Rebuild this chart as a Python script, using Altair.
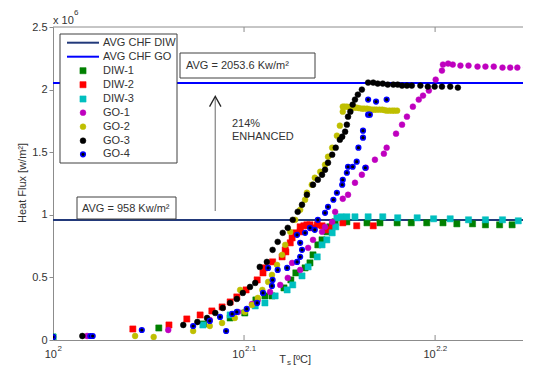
import altair as alt
import pandas as pd

# ---------------- data (Ts in degC, heat flux in units of 10^6 W/m^2) ----------------
series_names = ["DIW-1", "DIW-2", "DIW-3", "GO-1", "GO-2", "GO-3", "GO-4"]

diw1_T = [100.0, 113.6, 119.9, 123.8, 126.0, 127.7, 129.1, 130.2, 132.1, 133.2, 134.0, 135.5, 136.3, 136.8,
          137.6, 138.3, 139.1, 139.6, 140.5, 142.5, 146.0, 148.3, 151.4, 154.0, 156.9, 160.0, 162.7, 165.8,
          168.4, 171.3, 173.9]
diw1_q = [0.024, 0.096, 0.128, 0.176, 0.216, 0.32, 0.352, 0.352, 0.416, 0.48, 0.536, 0.576, 0.616, 0.68,
          0.76, 0.8, 0.864, 0.904, 0.944, 0.944, 0.936, 0.936, 0.936, 0.936, 0.936, 0.936, 0.928, 0.928,
          0.92, 0.92, 0.92]

diw2_T = [110.1, 115.0, 117.5, 119.4, 121.1, 122.6, 123.8, 124.8, 126.2, 127.9, 128.8, 129.1, 130.3, 131.8,
          132.3, 132.4, 133.1, 133.4, 134.0, 134.7, 134.7, 135.3, 135.8, 136.3, 136.6, 137.5, 138.3, 139.3,
          140.0, 141.8, 144.2, 147.1]
diw2_q = [0.088, 0.12, 0.168, 0.2, 0.232, 0.264, 0.304, 0.344, 0.4, 0.48, 0.536, 0.576, 0.624, 0.664,
          0.72, 0.704, 0.776, 0.816, 0.856, 0.864, 0.904, 0.912, 0.92, 0.92, 0.896, 0.92, 0.912, 0.88,
          0.912, 0.936, 0.912, 0.912]

diw3_T = [100.0, 119.8, 123.8, 127.6, 129.1, 130.7, 132.6, 133.5, 135.0, 136.0, 137.5, 138.3, 139.1, 140.0,
          140.6, 140.8, 141.5, 142.5, 143.9, 146.2, 148.8, 151.5, 155.1, 158.2, 161.4, 165.0, 168.4, 171.9,
          175.2]
diw3_q = [0.024, 0.12, 0.2, 0.272, 0.296, 0.352, 0.4, 0.44, 0.512, 0.584, 0.664, 0.76, 0.8, 0.856,
          0.904, 0.976, 0.984, 0.984, 0.984, 0.984, 0.984, 0.976, 0.976, 0.968, 0.968, 0.96, 0.96, 0.96,
          0.952]

go1_T = [104.2, 114.9, 120.8, 125.0, 127.1, 128.0, 129.9, 131.5, 132.7, 133.4, 134.7, 136.0, 136.8, 138.3,
         138.8, 140.0, 140.5, 141.8, 142.7, 143.9, 145.1, 145.8, 147.4, 149.0, 149.5, 151.2, 152.3, 153.2,
         154.3, 155.4, 156.2, 157.3, 158.6, 159.8, 160.0, 161.0, 161.9, 163.4, 165.0, 166.8, 168.4, 170.1,
         171.9, 173.5, 175.0, 176.9, 179.0]
go1_q = [0.032, 0.08, 0.16, 0.224, 0.288, 0.32, 0.384, 0.44, 0.496, 0.616, 0.56, 0.736, 0.8, 0.864,
         0.904, 0.944, 1.024, 1.128, 1.16, 1.256, 1.32, 1.376, 1.44, 1.488, 1.536, 1.648, 1.72, 1.784,
         1.864, 1.92, 1.952, 1.992, 2.08, 2.152, 2.2, 2.208, 2.2, 2.192, 2.192, 2.184, 2.184, 2.184,
         2.176, 2.176, 2.176, 2.176, 2.168]

go2_T = [110.4, 112.9, 118.4, 120.8, 122.6, 124.5, 125.3, 126.0, 127.1, 128.0, 128.7, 129.6, 130.2, 131.0,
         131.8, 132.3, 133.1, 133.9, 134.7, 135.5, 135.8, 136.6, 137.1, 138.0, 138.8, 139.3, 140.0, 140.8,
         141.3, 141.8, 141.8, 142.1, 142.5, 142.9, 143.4, 143.8, 144.2, 144.6, 145.1, 145.5, 146.0, 146.4,
         146.9, 147.3, 147.7, 148.2, 148.7, 149.1, 149.5, 150.0, 150.5, 150.9, 151.4]
go2_q = [0.032, 0.024, 0.072, 0.112, 0.136, 0.176, 0.4, 0.224, 0.28, 0.336, 0.4, 0.464, 0.52, 0.6,
         0.68, 0.76, 0.864, 0.96, 1.04, 1.12, 1.176, 1.24, 1.296, 1.344, 1.4, 1.464, 1.536, 1.632,
         1.712, 1.824, 1.864, 1.864, 1.864, 1.86, 1.856, 1.856, 1.856, 1.852, 1.848, 1.848, 1.848, 1.844,
         1.84, 1.84, 1.84, 1.84, 1.84, 1.836, 1.832, 1.832, 1.832, 1.832, 1.832]

go3_T = [100.0, 103.6, 117.0, 119.0, 120.4, 121.6, 122.7, 123.8, 124.8, 125.7, 126.8, 127.6, 128.3, 129.4,
         130.3, 131.1, 131.9, 132.7, 133.5, 134.3, 135.0, 135.8, 136.8, 137.6, 138.3, 138.8, 139.3, 140.0,
         140.6, 141.3, 141.7, 142.2, 142.5, 142.7, 143.1, 143.5, 143.9, 144.4, 145.1, 146.2, 147.1, 147.9,
         148.8, 149.7, 150.7, 151.5, 152.3, 153.2, 154.1, 155.7, 157.1, 158.4, 159.8, 161.4, 162.9]
go3_q = [0.024, 0.032, 0.12, 0.144, 0.176, 0.216, 0.256, 0.296, 0.328, 0.376, 0.424, 0.456, 0.584, 0.624,
         0.72, 0.784, 0.856, 0.896, 0.96, 1.024, 1.08, 1.16, 1.24, 1.28, 1.32, 1.36, 1.416, 1.48,
         1.536, 1.6, 1.624, 1.664, 1.72, 1.784, 1.824, 1.88, 1.92, 1.96, 2.0, 2.056, 2.056, 2.048,
         2.048, 2.04, 2.04, 2.04, 2.032, 2.032, 2.032, 2.032, 2.024, 2.024, 2.024, 2.024, 2.016]

go4_T = [100.0, 104.6, 104.9, 111.3, 118.4, 120.8, 122.3, 123.2, 124.1, 124.8, 126.3, 127.9, 128.8, 129.6,
         130.2, 130.3, 131.1, 132.6, 134.2, 134.7, 135.0, 134.7, 134.2, 135.5, 136.3, 137.1, 137.6, 138.8,
         139.3, 140.2, 140.8, 141.7, 141.8, 142.5, 142.7, 143.5, 144.2, 145.7, 144.5, 145.3, 145.3, 146.2,
         146.5, 146.2, 147.6, 149.5]
go4_q = [0.024, 0.032, 0.032, 0.08, 0.112, 0.152, 0.184, 0.072, 0.208, 0.224, 0.248, 0.296, 0.376, 0.576,
         0.432, 0.48, 0.56, 0.576, 0.624, 0.664, 0.72, 0.776, 0.84, 0.856, 0.896, 0.88, 0.96, 1.016,
         1.064, 1.12, 1.176, 1.24, 1.28, 1.336, 1.384, 1.384, 1.424, 1.376, 1.536, 1.616, 1.672, 1.8,
         1.8, 1.92, 1.904, 1.92]

avg_names = ["AVG CHF DIW", "AVG CHF GO"]
avg_values = [0.958, 2.0536]
avg_texts = ["AVG = 958 Kw/m²", "AVG = 2053.6 Kw/m²"]
enhance_texts = ["214%", "ENHANCED"]
arrow_T = 121.6
arrow_q = [1.03, 1.93]

x_tick_values = [100, 125.89, 158.49]
x_tick_sups = ["2", "2.1", "2.2"]
y_tick_values = [0, 0.5, 1, 1.5, 2, 2.5]
x_domain = [100, 176.2]
y_domain = [0, 2.5]

# ---------------- styling ----------------
FONT = "Liberation Sans"
TXT = "#333333"
AX = "#8c8c8c"
DIW_LINE = "#22397a"
GO_LINE = "#0000ff"
PLOT_W = 470
PLOT_H = 313
styles = {
    "DIW-1": dict(shape="square", fill="#008000", stroke="#008000", strokeWidth=0.5, size=38),
    "DIW-2": dict(shape="square", fill="#ff0000", stroke="#ff0000", strokeWidth=0.5, size=38),
    "DIW-3": dict(shape="square", fill="#00bfbf", stroke="#00bfbf", strokeWidth=0.5, size=38),
    "GO-1": dict(shape="circle", fill="#bf00bf", stroke="#bf00bf", strokeWidth=0.5, size=34),
    "GO-2": dict(shape="circle", fill="#bfbf00", stroke="#bfbf00", strokeWidth=0.5, size=34),
    "GO-3": dict(shape="circle", fill="#000000", stroke="#000000", strokeWidth=0.5, size=34),
    "GO-4": dict(shape="circle", fill="#000000", stroke="#0000ff", strokeWidth=1.5, size=22),
}

series_T = [diw1_T, diw2_T, diw3_T, go1_T, go2_T, go3_T, go4_T]
series_q = [diw1_q, diw2_q, diw3_q, go1_q, go2_q, go3_q, go4_q]
frames = []
for name, Ts, qs in zip(series_names, series_T, series_q):
    frames.append(pd.DataFrame({"series": name, "T": Ts, "q": qs}))
df = pd.concat(frames, ignore_index=True)

x_enc = alt.X("T:Q", scale=alt.Scale(type="log", domain=x_domain, nice=False),
              axis=alt.Axis(labels=False, ticks=False, grid=False, title=None,
                            domainColor=AX, domainWidth=1))
y_enc = alt.Y("q:Q", scale=alt.Scale(domain=y_domain, nice=False),
              axis=alt.Axis(values=y_tick_values, format="~g", grid=False, title=None,
                            labelFont=FONT, labelFontSize=11, labelColor=TXT, labelPadding=2,
                            tickColor=AX, tickSize=4, domainColor=AX, domainWidth=1))

one = pd.DataFrame({"k": [0]})
layers = []

# average CHF lines
avg_df = pd.DataFrame({"name": avg_names, "q": avg_values})
layers.append(
    alt.Chart(avg_df).mark_rule(strokeWidth=2).encode(
        y=y_enc,
        color=alt.Color("name:N", scale=alt.Scale(domain=avg_names, range=[DIW_LINE, GO_LINE]), legend=None),
    )
)

# data points
for name in series_names:
    st = styles[name]
    layers.append(
        alt.Chart(df[df["series"] == name]).mark_point(
            shape=st["shape"], filled=True, fill=st["fill"], stroke=st["stroke"],
            strokeWidth=st["strokeWidth"], size=st["size"], opacity=1, clip=True,
        ).encode(x=x_enc, y=y_enc)
    )

# top frame line
layers.append(alt.Chart(one).mark_rule(color=AX, strokeWidth=1).encode(
    x=alt.value(0), x2=alt.value(PLOT_W), y=alt.value(0)))

# inward x ticks (bottom and top)
tick_df = pd.DataFrame({"T": x_tick_values[1:]})
layers.append(alt.Chart(tick_df).mark_rule(color=AX, strokeWidth=1).encode(
    x=x_enc, y=alt.value(PLOT_H), y2=alt.value(PLOT_H - 5)))
layers.append(alt.Chart(tick_df).mark_rule(color=AX, strokeWidth=1).encode(
    x=x_enc, y=alt.value(0), y2=alt.value(5)))

# x tick labels 10^n
for tv, sup in zip(x_tick_values, x_tick_sups):
    w10 = 12.2
    ws = sum(2.2 if c == "." else 4.45 for c in sup)
    off = (w10 - ws) / 2
    d = pd.DataFrame({"T": [tv]})
    layers.append(alt.Chart(d).mark_text(text="10", font=FONT, fontSize=11, color=TXT, align="right",
                                         baseline="middle", dx=off).encode(x=x_enc, y=alt.value(328)))
    layers.append(alt.Chart(d).mark_text(text=sup, font=FONT, fontSize=8, color=TXT, align="left",
                                         baseline="middle", dx=off + 0.5).encode(x=x_enc, y=alt.value(322)))

# arrow
arrow_df = pd.DataFrame({"T": [arrow_T], "q": [arrow_q[0]], "q2": [arrow_q[1]]})
layers.append(alt.Chart(arrow_df).mark_rule(color="#8a8a8a", strokeWidth=1.3).encode(
    x=x_enc, y=y_enc, y2="q2:Q"))
head_df = pd.DataFrame({"T": [arrow_T], "q": [arrow_q[1] - 0.03]})
layers.append(alt.Chart(head_df).mark_point(shape="M-1,0.8L0,-1L1,0.8", filled=False, stroke="#262626",
                                            strokeWidth=1.3, size=130, opacity=1).encode(x=x_enc, y=y_enc))


def box(x1, x2, y1, y2):
    return alt.Chart(one).mark_rect(fill="white", stroke="#404040", strokeWidth=1).encode(
        x=alt.value(x1), x2=alt.value(x2), y=alt.value(y1), y2=alt.value(y2))


def label(t, x, y, size=11, align="left", angle=0, color=TXT):
    return alt.Chart(one).mark_text(text=t, font=FONT, fontSize=size, color=color, align=align,
                                    baseline="middle", angle=angle).encode(x=alt.value(x), y=alt.value(y))


# enhancement text
layers.append(label(enhance_texts[0], 179, 97))
layers.append(label(enhance_texts[1], 179, 110))

# AVG text boxes
layers.append(box(127, 262, 26, 51))
layers.append(label(avg_texts[1], 133, 39))
layers.append(box(24, 123, 170, 192))
layers.append(label(avg_texts[0], 29, 182))

# legend
layers.append(box(7, 124, 7, 136))
row_y = [15.7, 29.7, 43.7, 57.7, 72.0, 85.7, 99.7, 113.7, 127.3]
line_cols = [DIW_LINE, GO_LINE]
for i, nm in enumerate(avg_names):
    layers.append(alt.Chart(one).mark_rule(color=line_cols[i], strokeWidth=2).encode(
        x=alt.value(14), x2=alt.value(46), y=alt.value(row_y[i])))
    layers.append(label(nm, 50, row_y[i]))
for j, nm in enumerate(series_names):
    st = styles[nm]
    yy = row_y[j + 2]
    layers.append(alt.Chart(one).mark_point(
        shape=st["shape"], filled=True, fill=st["fill"], stroke=st["stroke"],
        strokeWidth=st["strokeWidth"], size=st["size"], opacity=1).encode(x=alt.value(30), y=alt.value(yy)))
    layers.append(label(nm, 50, yy))

# axis titles and exponent
layers.append(label("Heat Flux [w/m²]", -30, 156, angle=270, align="center"))
layers.append(label("T", 233, 333, align="right"))
layers.append(label("s", 234, 336, size=8))
layers.append(label("[ºC]", 240, 333))
layers.append(label("x 10", 0, -6))
layers.append(label("6", 21, -14, size=8))

chart = alt.layer(*layers).properties(
    width=PLOT_W, height=PLOT_H,
    padding={"left": 45, "top": 19, "right": 0, "bottom": 30},
    autosize=alt.AutoSizeParams(type="none"),
    background="white",
).configure_view(stroke="transparent", strokeWidth=0)

chart.save("out.html", embed_options={"renderer": "svg", "actions": False})
